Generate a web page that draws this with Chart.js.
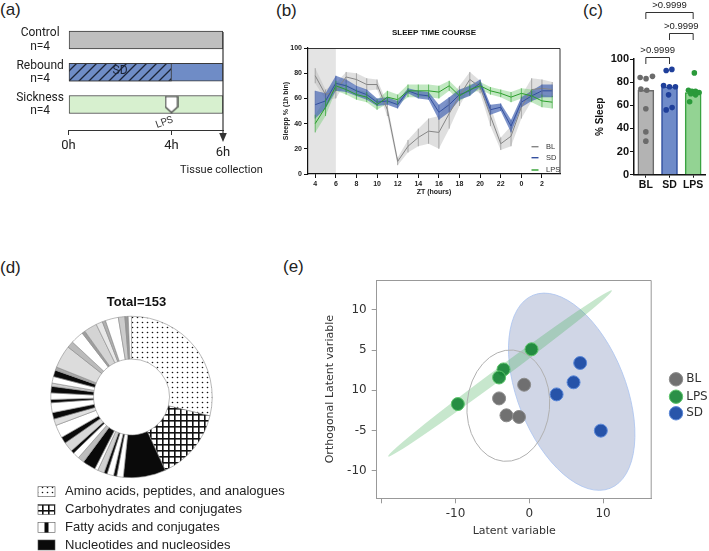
<!DOCTYPE html>
<html>
<head>
<meta charset="utf-8">
<script src="https://cdn.jsdelivr.net/npm/chart.js@4.4.1/dist/chart.umd.min.js"></script>
<style>
  body { margin: 0; background: #fff; }
  #wrap { position: relative; width: 709px; height: 551px; overflow: hidden; }
  canvas { position: absolute; }
  .pl { position: absolute; font: 17px 'Liberation Sans', Arial, sans-serif; color: #222; }
</style>
</head>
<body>
<div id="wrap">
  <div class="pl" style="left:0px;top:0px">(a)</div>
  <div class="pl" style="left:276px;top:1px">(b)</div>
  <div class="pl" style="left:583px;top:1px">(c)</div>
  <div class="pl" style="left:0px;top:258px">(d)</div>
  <div class="pl" style="left:283px;top:257px">(e)</div>
  <canvas id="ca" width="290" height="185" style="left:0;top:0"></canvas>
  <canvas id="cb" width="330" height="200" style="left:240px;top:0"></canvas>
  <canvas id="cc" width="129" height="200" style="left:580px;top:0"></canvas>
  <canvas id="cd" width="300" height="311" style="left:0;top:240px"></canvas>
  <canvas id="ce" width="409" height="301" style="left:300px;top:250px"></canvas>
</div>
<script>
// ---- (a) design
const aRows = [['Control', 'n=4'], ['Rebound', 'n=4'], ['Sickness', 'n=4']];
const aSpan = [0, 6];
const aSD = [0, 4];
const aLPS = 4;
const aTicks = [0, 4];
const aTickLabels = ['0h', '4h'];

// ---- (b) sleep time course, ZT 4 .. 3 (next day)
const zt = [4, 5, 6, 7, 8, 9, 10, 11, 12, 13, 14, 15, 16, 17, 18, 19, 20, 21, 22, 23, 24, 25, 26, 27];
const blMean = [78, 63, 66, 77, 75, 71, 71, 51, 10, 22, 29, 34, 33, 48, 62, 75, 69, 46, 24, 30, 53, 67, 68, 67];
const blErr = [6, 4, 6, 4, 5, 5, 4, 5, 3, 5, 7, 10, 13, 12, 8, 6, 5, 8, 5, 8, 9, 9, 7, 6];
const sdMean = [55, 58, 72, 70, 66, 63, 57, 58, 55, 66, 63, 62, 49, 55, 63, 66, 72, 51, 53, 38, 57, 62, 66, 66];
const sdErr = [11, 6, 6, 5, 4, 4, 3, 3, 3, 2, 3, 3, 6, 6, 4, 4, 3, 4, 3, 5, 4, 4, 5, 5];
const lpsMean = [40, 53, 70, 67, 63, 61, 55, 61, 59, 66, 66, 66, 65, 70, 62, 67, 70, 66, 64, 61, 64, 62, 58, 57];
const lpsErr = [7, 7, 4, 4, 4, 4, 4, 5, 4, 5, 5, 5, 5, 4, 4, 4, 3, 3, 3, 4, 4, 5, 5, 5];
const bTicks = [4, 6, 8, 10, 12, 14, 16, 18, 20, 22, 24, 26];
const bTickLabels = ['4', '6', '8', '10', '12', '14', '16', '18', '20', '22', '0', '2'];
const bSeries = ['BL', 'SD', 'LPS'];

// ---- (c) % sleep
const cGroups = ['BL', 'SD', 'LPS'];
const cMeans = [73, 76, 71];
const cBL = [84, 83, 85, 74, 73, 57, 37, 29];
const cBLjit = [-0.24, 0.01, 0.28, -0.21, 0.04, 0, 0, 0];
const cSD = [90, 91, 77, 76, 76, 69, 56, 58];
const cSDjit = [-0.14, 0.1, -0.25, 0, 0.25, -0.04, -0.14, 0.11];
const cLPS = [88, 73, 72, 72, 71, 70, 69, 63];
const cLPSjit = [0.05, -0.2, -0.05, 0.1, 0.25, -0.1, 0.1, -0.15];
const cPairs = [[0, 1], [1, 2], [0, 2]];
const cPairY = [102, 122.5, 140.5];
const cPairText = ['>0.9999', '>0.9999', '>0.9999'];

// ---- (d) compound classes, total 153
const dClasses = ['Amino acids, peptides, and analogues', 'Carbohydrates and conjugates',
                  'Fatty acids and conjugates', 'Nucleotides and nucleosides'];
const dCounts = [44, 22, 13, 2, 1, 2, 1, 2, 1, 4, 2, 2, 1, 3, 2, 4, 2, 2, 3, 1, 2, 2, 1, 2, 2, 1, 7, 2, 4, 1, 4, 2, 1, 4, 2, 1, 1];

// ---- (e) OPLS-DA scores
const eBLx = [-0.7, -4.1, -3.1, -1.4], eBLy = [0.7, -1.0, -3.1, -3.3];
const eLPSx = [0.3, -3.5, -4.1, -9.7], eLPSy = [5.1, 2.6, 1.6, -1.7];
const eSDx = [6.9, 6.0, 3.7, 9.7], eSDy = [3.4, 1.0, -0.5, -5.0];
const eXTicks = [-20, -10, 0, 10];
const eXTickLabels = ['', '-10', '0', '10'];
const eYTicks = [-10, -5, 0, 5, 10];
const eYTickLabels = ['-10', '-5', '10', '5', '10'];
// ellipse: centre, end of long axis, short/long ratio
const eEllGreen = [[-3.98, 2.1], [11.2, 12.4], 0.04];
const eEllBlue = [[5.75, -0.17], [0.54, 11.82], 0.52];
const eEllGray = [[-2.85, -1.9], [-2.17, 5.0], 0.74];

Chart.defaults.animation = false;
Chart.defaults.responsive = false;
Chart.defaults.events = [];
Chart.defaults.plugins.legend.display = false;
Chart.defaults.plugins.tooltip.enabled = false;
Chart.defaults.font.family = "'Liberation Sans', Arial, sans-serif";
Chart.defaults.color = '#222';

function tile(w, h, draw) {
    const c = document.createElement('canvas');
    c.width = w; c.height = h;
    draw(c.getContext('2d'), w, h);
    return c;
}

// ================= (a)
const ctxA = document.getElementById('ca').getContext('2d');
const sdHatch = ctxA.createPattern(tile(10, 10, (x, w, h) => {
    x.fillStyle = '#6f8cc6'; x.fillRect(0, 0, w, h);
    x.strokeStyle = '#1c2436'; x.lineWidth = 1.3;
    x.beginPath();
    x.moveTo(0, h); x.lineTo(w, 0);
    x.moveTo(-2, 2); x.lineTo(2, -2);
    x.moveTo(w - 2, h + 2); x.lineTo(w + 2, h - 2);
    x.stroke();
}), 'repeat');
const lpsMark = tile(14, 18, (x) => {
    x.fillStyle = '#fff'; x.strokeStyle = '#333'; x.lineWidth = 1.2;
    x.beginPath();
    x.moveTo(1, 1); x.lineTo(13, 1); x.lineTo(13, 11.5); x.lineTo(7, 17); x.lineTo(1, 11.5);
    x.closePath(); x.fill(); x.stroke();
});

new Chart(ctxA, {
    type: 'bar',
    data: {
        datasets: [
            {
                data: aRows.map((r, i) => ({ x: aSpan, y: i })),
                backgroundColor: ['#bfbfbf', '#6f8cc6', '#d7f0cf'],
                borderColor: '#3a3a3a', borderWidth: 1, borderSkipped: false,
                barThickness: 18, grouped: false, order: 2
            },
            {
                data: [{ x: aSD, y: 1 }],
                backgroundColor: sdHatch,
                borderColor: '#3a3a3a', borderWidth: 1, borderSkipped: false,
                barThickness: 18, grouped: false, order: 1
            },
            {
                type: 'scatter',
                data: [{ x: aLPS, y: 2 }],
                pointStyle: lpsMark, order: 0
            }
        ]
    },
    options: {
        indexAxis: 'y',
        devicePixelRatio: 1,
        layout: { padding: { left: 0, right: 67, top: 23.9, bottom: 0 } },
        scales: {
            x: {
                type: 'linear', min: 0, max: 6, offset: false,
                afterBuildTicks: s => { s.ticks = aTicks.map(v => ({ value: v })); },
                afterFit: s => { s.height = 55; },
                ticks: {
                    callback: (v, i) => aTickLabels[i],
                    font: { family: 'Roboto', size: 13 }, color: '#222', padding: 3, maxRotation: 0
                },
                grid: { drawOnChartArea: false, tickLength: 5, color: '#333' },
                border: { color: '#333', width: 1 }
            },
            y: {
                type: 'linear', reverse: true, min: -0.5, max: 2.79, offset: false,
                afterBuildTicks: s => { s.ticks = [0, 1, 2].map(v => ({ value: v })); },
                afterFit: s => { s.width = 68.5; },
                ticks: {
                    callback: v => aRows[v],
                    crossAlign: 'center', padding: 4.5,
                    font: { family: 'Roboto', size: 12, lineHeight: 1.1 }, color: '#222'
                },
                grid: { display: false, drawTicks: false, offset: false },
                border: { display: false }
            }
        }
    },
    plugins: [{
        id: 'aNotes',
        afterDraw(chart) {
            const { ctx, scales: { x, y }, chartArea } = chart;
            const px = x.getPixelForValue(aSpan[1]);
            ctx.save();
            ctx.strokeStyle = '#333'; ctx.fillStyle = '#333'; ctx.lineWidth = 1.2;
            ctx.beginPath();
            ctx.moveTo(px, y.getPixelForValue(0) - 8);
            ctx.lineTo(px, chartArea.bottom + 4);
            ctx.stroke();
            ctx.beginPath();
            ctx.moveTo(px - 3.8, chartArea.bottom + 3);
            ctx.lineTo(px + 3.8, chartArea.bottom + 3);
            ctx.lineTo(px, chartArea.bottom + 12);
            ctx.closePath(); ctx.fill();
            ctx.fillStyle = '#222';
            ctx.textAlign = 'center'; ctx.textBaseline = 'middle';
            ctx.font = "13px Roboto";
            ctx.fillText('6h', px, chartArea.bottom + 23);
            ctx.font = "11px Roboto";
            ctx.textAlign = 'left';
            ctx.fillText('Tissue collection', px - 43, chartArea.bottom + 40);
            ctx.font = "12px Roboto";
            ctx.textAlign = 'center';
            ctx.fillStyle = '#1b2438';
            ctx.fillText('SD', x.getPixelForValue((aSD[0] + aSD[1]) / 2), y.getPixelForValue(1) - 1);
            ctx.translate(x.getPixelForValue(aLPS) - 7, y.getPixelForValue(2) + 18);
            ctx.rotate(-20 * Math.PI / 180);
            ctx.font = "10px Roboto";
            ctx.fillStyle = '#333';
            ctx.fillText('LPS', 0, 0);
            ctx.restore();
        }
    }]
});

// ================= (b)
function band(mean, err, color, ord) {
    return [
        { data: mean.map((m, i) => ({ x: zt[i], y: m + err[i] })), borderWidth: 0, pointRadius: 0,
          fill: '+1', backgroundColor: color, order: ord },
        { data: mean.map((m, i) => ({ x: zt[i], y: m - err[i] })), borderWidth: 0, pointRadius: 0,
          fill: false, order: ord }
    ];
}
function meanLine(mean, color, ord) {
    return { data: mean.map((m, i) => ({ x: zt[i], y: m })), borderColor: color, borderWidth: 1,
             pointRadius: 0, fill: false, order: ord };
}
const bColors = ['#858585', '#34509f', '#2b9e2b'];
const bWhisk = ['#8c8c8c', '#3a56a4', '#33a333'];
const bSets = [[blMean, blErr], [sdMean, sdErr], [lpsMean, lpsErr]];
const bold7 = { size: 7, weight: 'bold' };

new Chart(document.getElementById('cb'), {
    type: 'line',
    data: {
        datasets: [
            ...band(blMean, blErr, 'rgba(185,185,185,0.45)', 12),
            ...band(lpsMean, lpsErr, 'rgba(120,205,120,0.45)', 11),
            ...band(sdMean, sdErr, 'rgba(75,105,180,0.72)', 10),
            meanLine(blMean, bColors[0], 3),
            meanLine(sdMean, bColors[1], 2),
            meanLine(lpsMean, bColors[2], 1)
        ]
    },
    options: {
        devicePixelRatio: 1,
        layout: { padding: { left: 42, right: 10, top: 48, bottom: 0 } },
        scales: {
            x: {
                type: 'linear', min: 3.3, max: 27.75,
                afterBuildTicks: s => { s.ticks = bTicks.map(v => ({ value: v })); },
                afterFit: s => { s.height = 26; },
                ticks: { callback: (v, i) => bTickLabels[i], font: bold7, color: '#222', padding: 2,
                         maxRotation: 0, autoSkip: false },
                grid: { drawOnChartArea: false, tickLength: 4, color: '#111' },
                border: { color: '#111', width: 1.2 },
                title: { display: true, text: 'ZT (hours)', font: bold7, color: '#222',
                         padding: { top: 0, bottom: 4 } }
            },
            y: {
                min: 0, max: 100,
                afterFit: s => { s.width = 26; },
                ticks: { stepSize: 20, font: bold7, color: '#222', padding: 2 },
                grid: { drawOnChartArea: false, tickLength: 4, color: '#111' },
                border: { color: '#111', width: 1.2 },
                title: { display: true, text: 'Sleepp % (1h bin)', font: bold7, color: '#222', padding: 0 }
            }
        }
    },
    plugins: [{
        id: 'bExtras',
        beforeDraw(chart) {
            const { ctx, chartArea: a, scales: { x } } = chart;
            ctx.save();
            ctx.fillStyle = '#e4e4e4';
            ctx.fillRect(a.left, a.top, x.getPixelForValue(6) - a.left, a.bottom - a.top);
            ctx.restore();
        },
        afterDatasetsDraw(chart) {
            const { ctx, scales: { x, y } } = chart;
            ctx.save();
            ctx.lineWidth = 0.7;
            bSets.forEach(([m, e], k) => {
                ctx.strokeStyle = bWhisk[k];
                ctx.beginPath();
                zt.forEach((t, i) => {
                    const px = x.getPixelForValue(t);
                    ctx.moveTo(px, y.getPixelForValue(m[i] + e[i]));
                    ctx.lineTo(px, y.getPixelForValue(m[i] - e[i]));
                });
                ctx.stroke();
            });
            ctx.restore();
        },
        afterDraw(chart) {
            const { ctx, chartArea: a } = chart;
            ctx.save();
            ctx.strokeStyle = '#333'; ctx.lineWidth = 1;
            ctx.beginPath();
            ctx.moveTo(a.left, a.top + 0.5); ctx.lineTo(a.right, a.top + 0.5);
            ctx.lineTo(a.right, a.bottom);
            ctx.stroke();
            ctx.fillStyle = '#111';
            ctx.font = "bold 8px 'Liberation Sans', Arial";
            ctx.textAlign = 'center'; ctx.textBaseline = 'middle';
            ctx.fillText('SLEEP TIME COURSE', (a.left + a.right) / 2, 33);
            ctx.font = "7.5px 'Liberation Sans', Arial";
            ctx.textAlign = 'left';
            const rows = [27.3, 16.3, 4];
            bSeries.forEach((s, k) => {
                const yy = a.bottom - rows[k];
                ctx.strokeStyle = bColors[k]; ctx.lineWidth = 1.4;
                ctx.beginPath(); ctx.moveTo(a.right - 28.5, yy); ctx.lineTo(a.right - 21.5, yy); ctx.stroke();
                ctx.fillStyle = '#333';
                ctx.fillText(s, a.right - 14, yy);
            });
            ctx.restore();
        }
    }]
});

// ================= (c)
const cPt = (vals, jit, g) => vals.map((v, i) => ({ x: g + jit[i], y: v }));
new Chart(document.getElementById('cc'), {
    type: 'bar',
    data: {
        datasets: [
            { type: 'scatter', data: cPt(cBL, cBLjit, 0), backgroundColor: '#6b6b6b', pointRadius: 2.8, borderWidth: 0, order: 0 },
            { type: 'scatter', data: cPt(cSD, cSDjit, 1), backgroundColor: '#1f3f9a', pointRadius: 2.8, borderWidth: 0, order: 0 },
            { type: 'scatter', data: cPt(cLPS, cLPSjit, 2), backgroundColor: '#2a9a3a', pointRadius: 2.8, borderWidth: 0, order: 0 },
            {
                data: cMeans.map((v, i) => ({ x: i, y: v })),
                backgroundColor: ['#b3b3b3', '#6f8bc9', '#93d393'],
                borderColor: ['#6b6b6b', '#2d4d9e', '#3aa341'],
                borderWidth: 1.5, barThickness: 16, order: 5
            }
        ]
    },
    options: {
        devicePixelRatio: 1,
        layout: { padding: { left: 14, right: 4, top: 59, bottom: 0 } },
        scales: {
            x: {
                type: 'linear', min: -0.5, max: 2.5, offset: false,
                afterBuildTicks: s => { s.ticks = [0, 1, 2].map(v => ({ value: v })); },
                afterFit: s => { s.height = 25.3; },
                ticks: { callback: (v, i) => cGroups[i], font: { size: 10.5, weight: 'bold' }, color: '#111',
                         padding: 1, maxRotation: 0 },
                grid: { drawOnChartArea: false, tickLength: 3, color: '#111', offset: false },
                border: { color: '#111', width: 1.5 }
            },
            y: {
                min: 0, max: 100,
                afterFit: s => { s.width = 40; },
                ticks: { stepSize: 20, font: { size: 11, weight: 'bold' }, color: '#111', padding: 1 },
                grid: { drawOnChartArea: false, tickLength: 4, color: '#111' },
                border: { color: '#111', width: 1.5 },
                title: { display: true, text: '% Sleep', font: { size: 10, weight: 'bold' }, color: '#111', padding: 0 }
            }
        }
    },
    plugins: [{
        id: 'cBrackets',
        afterDraw(chart) {
            const { ctx, scales: { x, y } } = chart;
            ctx.save();
            ctx.strokeStyle = '#333'; ctx.lineWidth = 1;
            ctx.fillStyle = '#222';
            ctx.font = "9.5px 'Liberation Sans', Arial";
            ctx.textAlign = 'center'; ctx.textBaseline = 'middle';
            cPairs.forEach((p, k) => {
                const yy = Math.round(y.getPixelForValue(cPairY[k])) + 0.5;
                const x1 = x.getPixelForValue(p[0]), x2 = x.getPixelForValue(p[1]);
                ctx.beginPath();
                ctx.moveTo(x1, yy + 6.5); ctx.lineTo(x1, yy); ctx.lineTo(x2, yy); ctx.lineTo(x2, yy + 6.5);
                ctx.stroke();
                ctx.fillText(cPairText[k], (x1 + x2) / 2, yy - 7.5);
            });
            ctx.restore();
        }
    }]
});

// ================= (d)
const ctxD = document.getElementById('cd').getContext('2d');
const dotPat = ctxD.createPattern(tile(5, 5, (x, w, h) => {
    x.fillStyle = '#fff'; x.fillRect(0, 0, w, h);
    x.fillStyle = '#111'; x.beginPath(); x.arc(2.5, 2.5, 0.8, 0, Math.PI * 2); x.fill();
}), 'repeat');
const crossPat = ctxD.createPattern(tile(6, 6, (x, w, h) => {
    x.fillStyle = '#fff'; x.fillRect(0, 0, w, h);
    x.fillStyle = '#111'; x.fillRect(0, 0, 1.6, h); x.fillRect(0, 0, w, 1.6);
}), 'repeat');
const W = '#ffffff', K = '#0a0a0a';
const dFill = [dotPat, crossPat, K,
    W, K, W, K, '#d0d0d0', W, K, '#bdbdbd', W, K, '#d8d8d8', K, W, '#e0e0e0', K, W, K, W, K,
    '#cfcfcf', W, K, '#a8a8a8', '#dcdcdc', '#bbbbbb', W, '#9e9e9e', '#d4d4d4', '#e8e8e8', '#b0b0b0',
    W, '#cccccc', '#999999', W];

new Chart(ctxD, {
    type: 'doughnut',
    data: {
        datasets: [{ data: dCounts, backgroundColor: dFill, borderColor: '#8a8a8a', borderWidth: 0.6 }]
    },
    options: {
        devicePixelRatio: 1,
        cutout: '47%',
        layout: { padding: { left: 50.5, right: 87.5, top: 76, bottom: 73 } }
    },
    plugins: [{
        id: 'dNotes',
        afterDraw(chart) {
            const { ctx } = chart;
            ctx.save();
            ctx.fillStyle = '#111';
            ctx.font = "bold 13px 'Liberation Sans', Arial";
            ctx.textAlign = 'center'; ctx.textBaseline = 'middle';
            ctx.fillText('Total=' + dCounts.reduce((s, v) => s + v, 0), 136.5, 62);
            const rows = [251.7, 269.5, 287.5, 305];
            const fills = [dotPat, crossPat, '#fff', K];
            ctx.font = "13px 'Liberation Sans', Arial";
            ctx.textAlign = 'left';
            dClasses.forEach((name, k) => {
                const yy = rows[k];
                ctx.fillStyle = fills[k];
                ctx.fillRect(38, yy - 5, 17, 10);
                ctx.strokeStyle = '#555'; ctx.lineWidth = 0.6;
                ctx.strokeRect(38, yy - 5, 17, 10);
                if (k === 2) { ctx.fillStyle = K; ctx.fillRect(44.5, yy - 5, 4, 10); }
                ctx.fillStyle = '#222';
                ctx.fillText(name, 65, yy);
            });
            ctx.restore();
        }
    }]
});

// ================= (e)
const ePts = (xs, ys) => xs.map((v, i) => ({ x: v, y: ys[i] }));
const eNames = ['BL', 'LPS', 'SD'];
const eFill = ['rgba(105,105,105,0.95)', 'rgba(25,135,55,0.92)', 'rgba(28,76,165,0.95)'];
const eEdge = ['#8c8c8c', '#5cc46a', '#5b88d8'];
const eFont = "'DejaVu Sans', Verdana, sans-serif";

function ellipse(ctx, x, y, e, fill, stroke) {
    const cx = x.getPixelForValue(e[0][0]), cy = y.getPixelForValue(e[0][1]);
    const tx = x.getPixelForValue(e[1][0]), ty = y.getPixelForValue(e[1][1]);
    const a = Math.hypot(tx - cx, ty - cy);
    const ang = Math.atan2(ty - cy, tx - cx);
    ctx.beginPath();
    ctx.ellipse(cx, cy, a, a * e[2], ang, 0, Math.PI * 2);
    if (fill) { ctx.fillStyle = fill; ctx.fill(); }
    if (stroke) { ctx.strokeStyle = stroke; ctx.lineWidth = 1; ctx.stroke(); }
}

new Chart(document.getElementById('ce'), {
    type: 'scatter',
    data: {
        datasets: [
            { data: ePts(eBLx, eBLy), backgroundColor: eFill[0], borderColor: eEdge[0], borderWidth: 1, pointRadius: 6.5 },
            { data: ePts(eLPSx, eLPSy), backgroundColor: eFill[1], borderColor: eEdge[1], borderWidth: 1, pointRadius: 6.5 },
            { data: ePts(eSDx, eSDy), backgroundColor: eFill[2], borderColor: eEdge[2], borderWidth: 1, pointRadius: 6.5 }
        ]
    },
    options: {
        devicePixelRatio: 1,
        layout: { padding: { left: 23.5, right: 57.3, top: 30, bottom: 0 } },
        scales: {
            x: {
                type: 'linear', min: -20.7, max: 16.6,
                afterBuildTicks: s => { s.ticks = eXTicks.map(v => ({ value: v })); },
                afterFit: s => { s.height = 52.7; },
                ticks: { callback: (v, i) => eXTickLabels[i], font: { family: eFont, size: 12 }, color: '#333',
                         padding: 3, maxRotation: 0 },
                grid: { drawOnChartArea: false, tickLength: 5, color: '#999' },
                border: { color: '#999', width: 1 },
                title: { display: true, text: 'Latent variable', font: { family: eFont, size: 11 }, color: '#333',
                         padding: { top: 0, bottom: 13 } }
            },
            y: {
                min: -13.4, max: 13.7,
                afterBuildTicks: s => { s.ticks = eYTicks.map(v => ({ value: v })); },
                afterFit: s => { s.width = 53.2; },
                ticks: { callback: (v, i) => eYTickLabels[i], font: { family: eFont, size: 12 }, color: '#333', padding: 5 },
                grid: { drawOnChartArea: false, tickLength: 5, color: '#999' },
                border: { color: '#999', width: 1 },
                title: { display: true, text: 'Orthogonal Latent variable', font: { family: eFont, size: 11 },
                         color: '#333', padding: 0 }
            }
        }
    },
    plugins: [{
        id: 'eExtras',
        beforeDatasetsDraw(chart) {
            const { ctx, chartArea: a, scales: { x, y } } = chart;
            ctx.save();
            ctx.beginPath(); ctx.rect(a.left, a.top, a.right - a.left, a.bottom - a.top); ctx.clip();
            ellipse(ctx, x, y, eEllBlue, 'rgba(112,132,178,0.33)', 'rgba(170,195,240,0.8)');
            ellipse(ctx, x, y, eEllGreen, 'rgba(70,175,90,0.3)', null);
            ellipse(ctx, x, y, eEllGray, null, '#b0b0b0');
            ctx.restore();
            ctx.save();
            ctx.strokeStyle = '#999'; ctx.lineWidth = 1;
            ctx.beginPath();
            ctx.moveTo(a.left, a.top + 0.5); ctx.lineTo(a.right - 0.5, a.top + 0.5); ctx.lineTo(a.right - 0.5, a.bottom);
            ctx.stroke();
            ctx.restore();
        },
        afterDraw(chart) {
            const { ctx, chartArea: a } = chart;
            ctx.save();
            ctx.font = '12px ' + eFont;
            ctx.textAlign = 'left'; ctx.textBaseline = 'middle';
            const rows = [129.3, 146.7, 163.3];
            eNames.forEach((n, k) => {
                ctx.beginPath();
                ctx.arc(a.right + 24.3, rows[k], 6.7, 0, Math.PI * 2);
                ctx.fillStyle = eFill[k]; ctx.fill();
                ctx.strokeStyle = eEdge[k]; ctx.lineWidth = 1; ctx.stroke();
                ctx.fillStyle = '#333';
                ctx.fillText(n, a.right + 34.5, rows[k]);
            });
            ctx.restore();
        }
    }]
});
</script>
</body>
</html>
